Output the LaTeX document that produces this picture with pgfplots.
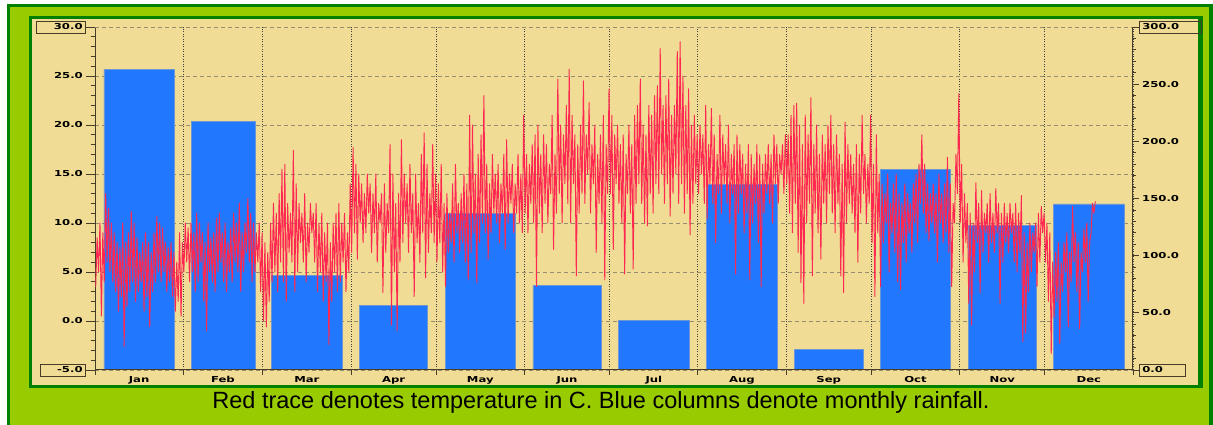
\documentclass[border=0pt]{standalone}
\usepackage{pgfplots}
\pgfplotsset{compat=1.18}
\usepackage{pgfplotstable}
\usepackage{fontspec}
\setmainfont{Liberation Sans}
\newfontfamily\tickfont{DejaVu Sans}[FakeStretch=1.42]
\newcommand\tf{\tickfont\bfseries\fontsize{8.2pt}{9pt}\selectfont}
\definecolor{khaki}{RGB}{240,220,148}
\definecolor{ltgreen}{RGB}{153,204,0}
\definecolor{dkgreen}{RGB}{0,128,0}
\definecolor{barblue}{RGB}{34,119,255}
\definecolor{baredge}{RGB}{110,150,210}
\definecolor{trace}{RGB}{255,40,80}
\definecolor{axcol}{RGB}{70,60,40}
\definecolor{gridcol}{RGB}{150,140,110}

% monthly rainfall (mm), bar centre in days
\pgfplotstableread{
c r
15.5 263
74.5 82.5
135.5 137
196.5 43.5
227.5 162.4
288.5 175.5
349.5 145.2
}\rainlong
\pgfplotstableread{
c r
105 56.6
166 74.1
258 18.1
319 126.6
}\rainmid
\pgfplotstableread{
c r
45 217.2
}\rainfeb

% temperature, daily low/high pairs (deg C)
\pgfplotstableread[row sep=\\]{
y\\
3.5\\8.5\\ 5\\10\\ 0.5\\9\\ 4\\13\\ 6\\11.5\\ 5\\10\\ 4\\9\\ 3\\8\\ 1\\7.5\\ 2.5\\10\\
-2.6\\8\\ 1.5\\9\\ 3\\11.2\\ 4\\10\\ 2\\8.5\\ 3\\7\\ 4\\8\\ 1\\9\\ 2.5\\8\\ -0.6\\7\\
3\\9\\ 4\\10.7\\ 5\\10\\ 4\\9.5\\ 5\\8\\ 3\\7.5\\ 4\\8\\ 2.5\\7\\ 1\\6\\ 2\\9\\ 0.5\\8\\
5\\10\\ 6\\9.5\\ 4\\10\\ 5\\9\\ 3\\11\\ 4\\10\\ 6\\9\\ 2\\8\\ -1\\10\\ 5\\8.5\\
4\\9\\ 3\\10.5\\ 5\\11\\ 6\\9\\ 4\\10\\ 3\\8\\ 5\\9.5\\ 4\\11\\ 6\\10\\ 5\\12\\
3\\9\\ 5\\10\\ 7\\12.5\\ 6\\11\\ 4\\10\\ 5\\9\\ 6\\10\\ 3\\9\\
0\\8\\ -0.6\\7\\ 2\\10\\ 4\\12\\ 5\\11\\ 3\\13\\ 6\\15.5\\ 4\\16\\ 2\\12\\ 7\\11\\
6\\17.4\\ 3\\14\\ 5\\12\\ 8\\11\\ 6\\13\\ 4\\10\\ 7\\12\\ 9\\11\\ 6\\12\\ 3\\10\\
5\\11\\ 2\\9\\ 4\\10\\ -2.4\\8\\ 2\\10\\ 5\\11\\ 3\\12\\ 4\\10\\ 6\\11\\ 3\\9\\ 5\\14\\
7\\17.7\\ 9\\16\\ 6.3\\15\\ 10\\14\\ 8\\13\\ 9\\15\\ 11\\14\\ 7\\13\\ 9\\15\\ 6\\12\\
10\\13\\ 2.9\\14\\ 7\\12\\ 9\\18\\ -0.4\\15\\ 5\\12\\ -1\\13\\ 6\\18.5\\ 8\\15\\ 10\\14\\
7\\16\\ 9\\13\\ 2.5\\15\\ 8\\12\\ 6\\17\\ 9\\19.2\\ 4.4\\16\\ 7\\13\\ 9\\18\\ 8\\15\\
6\\14\\ 8\\16\\ 5\\12\\ 3.5\\13\\ 7\\11\\ 8\\14\\ 6\\16\\ 9\\12\\ 7\\13\\ 8\\15\\
6\\14\\ 4.2\\21\\ 7\\20\\ 9\\15\\ 3.9\\17\\ 8\\19\\ 10\\23\\ 9\\16\\ 6.3\\14\\ 9\\17\\
11\\15\\ 10\\16\\ 8\\14\\ 11\\17\\ 7.3\\18.5\\ 10\\15\\ 12\\16\\ 9\\14\\ 11\\17\\ 10\\15\\ 9\\21\\
11\\17\\ 9\\16\\ 12\\18\\ 10\\19\\ 3.5\\20\\ 11\\17\\ 9\\19\\ 12\\18\\ 10\\16\\ 13\\21\\
7.3\\17\\ 11\\24.7\\ 13\\20\\ 10\\19\\ 14\\22\\ 12\\25.7\\ 10\\21\\ 14\\19\\ 4.6\\18\\ 11\\20\\
13\\24.5\\ 12\\19\\ 15\\22.3\\ 11\\18\\ 14\\20\\ 7\\17\\ 12\\19\\ 10\\21\\ 4.2\\18\\ 13\\23.7\\
13\\21\\ 7.3\\19\\ 14\\20\\ 12\\18\\ 10\\19\\ 4.8\\17\\ 13\\20\\ 11\\18\\ 5.3\\21\\ 12\\22\\
14\\24.7\\ 12\\20\\ 10\\19\\ 9.7\\22\\ 13\\21\\ 11\\23\\ 14\\24\\ 13\\27.8\\ 15\\22\\ 12\\23\\
14\\24.7\\ 10.7\\21\\ 13\\22\\ 15\\27.5\\ 12\\28.5\\ 14\\25\\ 11\\22\\ 13\\23.7\\ 8.8\\20\\ 12\\21\\ 14\\19\\
13\\20\\ 15\\19\\ 12\\22\\ 10.4\\18\\ 14\\21.7\\ 12\\19\\ 8\\17\\ 13\\21\\ 11\\19\\ 14\\18\\
12\\20\\ 10\\17\\ 13\\18\\ 4.8\\19\\ 11\\18\\ 13\\17\\ 9\\16\\ 11\\18\\ 4.2\\17\\ 10\\16\\
12\\18\\ 8\\17\\ 3.5\\16\\ 11\\17\\ 13\\18\\ 12\\17\\ 10\\19\\ 14\\18\\ 12\\17\\ 15\\18\\ 13\\19\\
14\\19\\ 11\\21\\ 9\\22\\ 12\\22.2\\ 7\\20\\ 3.9\\18\\ 1.8\\21\\ 10\\19\\ 12\\22.8\\ 4.6\\18\\
11\\20\\ 9\\17\\ 6.3\\19\\ 12\\18\\ 10\\20\\ 13\\21\\ 11\\18\\ 9\\19\\ 12\\17\\ 4.6\\16\\
2.9\\20.3\\ 10\\18\\ 12\\17\\ 11\\16\\ 9\\18\\ 6\\17\\ 11\\21\\ 13\\17\\ 10\\16\\ 12\\21\\
8\\16\\ 2.5\\19\\ 9\\15\\ 3.5\\14\\ 8\\13\\ 10\\15\\ 5\\12\\ 9\\14\\ 7\\15\\ 4\\13\\
3.2\\12\\ 8\\14\\ 6\\13\\ 9\\12\\ 7\\14\\ 10\\15\\ 8\\16\\ 12\\19\\ 11\\16\\ 9\\14\\
8.2\\13\\ 10\\14\\ 9\\13\\ 6\\15\\ 10\\13\\ 8\\14\\ 9\\16.7\\ 7\\14\\ 3.5\\12\\ 10\\17\\ 13\\23.2\\
10\\16\\ 6\\13\\ 8\\12\\ 1.8\\11\\ -0.4\\10\\ 5\\14.1\\ 8\\12\\ 2.9\\13.3\\ 7\\11\\ 9\\12\\
6\\13\\ 8\\11\\ 7\\13.5\\ 9\\12\\ 1.8\\11\\ 6\\12\\ 8\\11\\ 7\\12\\ 9\\11\\ 6\\12\\
5\\11\\ 7\\12.8\\ -2.1\\9\\ -1.2\\8\\ 3\\10\\ 5\\9\\ 7\\10\\ 3.5\\11\\ 6\\11.7\\ 9\\11\\
6\\10\\ 2\\9\\ -3.3\\6\\ 0.4\\7\\ 2\\8\\ -2.3\\6\\ 3\\8\\ 5\\9\\ -0.6\\7\\ 4\\11.7\\
6\\9\\ 3\\8\\ -0.8\\7\\ 5\\9.4\\ 6\\10\\ 2\\8\\ 9\\12\\ 11\\12.2\\
}\temps

\pgfplotsset{base/.style={scale only axis, width=1038pt, height=343pt,
  at={(95pt,55pt)}, anchor=south west, xmin=0, xmax=365}}

\begin{document}
\begin{tikzpicture}[x=1pt,y=1pt]
\useasboundingbox (0,0) rectangle (1213,425);
\fill[white] (0,0) rectangle (1213,425);
\fill[dkgreen] (7,0) rectangle (1213,421);
\fill[ltgreen] (10,0) rectangle (1209,418);
\fill[dkgreen] (29,37) rectangle (1203,409);
\fill[khaki] (32,40) rectangle (1198,406);

% layer 1: grid, left axis, month labels
\begin{axis}[base, ymin=-5, ymax=30,
  axis x line*=bottom, axis y line*=left,
  axis line style={axcol, line width=1pt},
  tick align=outside, major tick length=9pt, minor tick length=4.5pt,
  ytick={-5,0,5,10,15,20,25,30},
  yticklabels={{},0.0,5.0,10.0,15.0,20.0,25.0,{}},
  minor y tick num=4,
  extra y ticks={-5,30},
  extra y tick labels={{\hspace*{14pt}-5.0},{\hspace*{14pt}30.0}},
  extra y tick style={yticklabel style={draw=axcol, line width=0.8pt}},
  xtick={0,31,59,90,120,151,181,212,243,273,304,334,365},
  x tick label as interval,
  xticklabels={Jan,Feb,Mar,Apr,May,Jun,Jul,Aug,Sep,Oct,Nov,Dec},
  xticklabel style={yshift=6pt},
  xtick style={draw=none},
  ytick style={axcol, line width=0.8pt},
  ymajorgrids, xmajorgrids,
  y grid style={gridcol, dash pattern=on 4pt off 3pt, line width=0.9pt},
  x grid style={black!75, dash pattern=on 1pt off 1.5pt, line width=0.8pt},
  tick label style={font=\tf, text=black, inner sep=3pt, text height=6pt, text depth=0pt},
]
\end{axis}

% layer 2: rainfall bars, right axis
\begin{axis}[base, ymin=0, ymax=300,
  axis x line=none, axis y line*=right,
  axis line style={axcol, line width=1pt},
  tick align=outside, major tick length=6pt, minor tick length=3pt,
  ytick={0,50,100,150,200,250,300},
  yticklabels={{},50.0,100.0,150.0,200.0,250.0,{}},
  minor y tick num=4,
  extra y ticks={0,300},
  extra y tick labels={{0.0\hspace*{19pt}},{300.0\hspace*{19pt}}},
  extra y tick style={yticklabel style={draw=axcol, line width=0.8pt}},
  ytick style={axcol, line width=0.8pt},
  tick label style={font=\tf, text=black, inner sep=3pt, text height=6pt, text depth=0pt},
  ybar,
]
\addplot[fill=barblue, draw=baredge, line width=0.6pt, bar width=24.8, bar shift=0pt] table[x=c,y=r]{\rainlong};
\addplot[fill=barblue, draw=baredge, line width=0.6pt, bar width=24, bar shift=0pt] table[x=c,y=r]{\rainmid};
\addplot[fill=barblue, draw=baredge, line width=0.6pt, bar width=22.4, bar shift=0pt] table[x=c,y=r]{\rainfeb};
\end{axis}

% layer 3: temperature trace, bottom axis ticks
\begin{axis}[base, ymin=-5, ymax=30,
  axis y line=none, axis x line*=bottom,
  axis line style={axcol, line width=1pt},
  tick align=outside, major tick length=5pt,
  xtick={0,31,59,90,120,151,181,212,243,273,304,334,365},
  xticklabels={}, xtick style={axcol, line width=0.8pt},
]
\addplot[trace, line width=0.95pt, line join=round, mark=none]
  table[x expr=\coordindex*0.5+0.25, y index=0]{\temps};
\end{axis}

\node[anchor=base, font=\fontsize{23.5pt}{26pt}\selectfont] at (601,16)
  {Red trace denotes temperature in C. Blue columns denote monthly rainfall.};
\end{tikzpicture}
\end{document}
